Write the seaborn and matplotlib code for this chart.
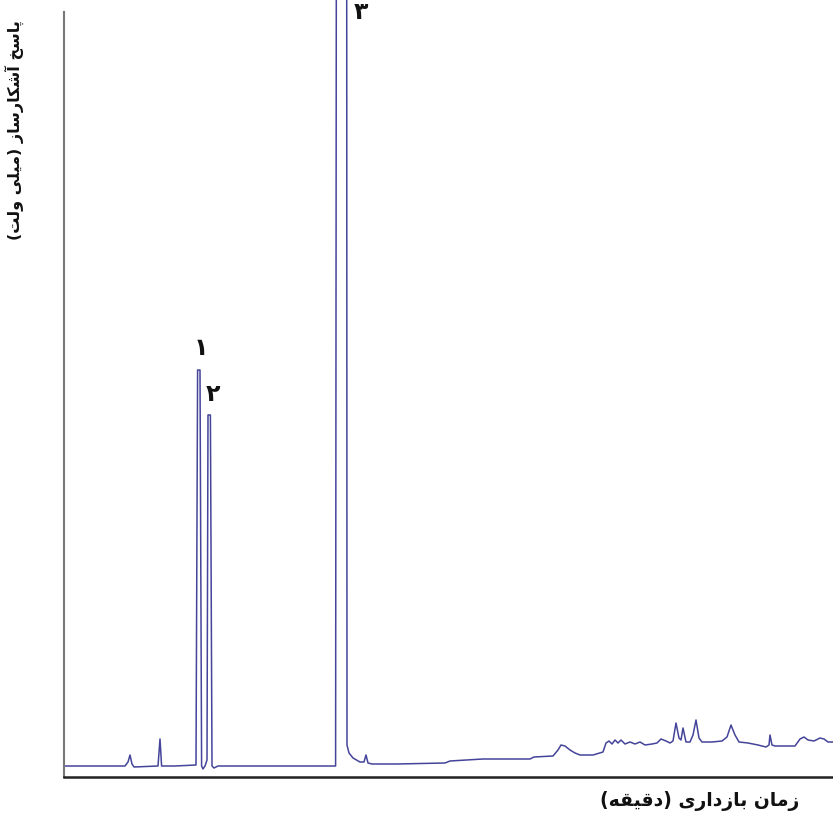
import matplotlib
matplotlib.use("Agg")
import matplotlib.pyplot as plt
import seaborn as sns
import pandas as pd

# ---- data (retention time in min, detector signal in mV) ----
time_min = [0.0, 3.05, 3.2, 3.3, 3.4, 3.5, 4.7, 4.8, 4.88, 5.55,
            6.6, 6.68, 6.8, 6.88, 6.95, 7.05, 7.15, 7.2, 7.32, 7.4, 7.5, 7.7,
            13.5, 13.58, 13.63, 14.13, 14.15, 14.25, 14.45, 14.8, 15.0, 15.1, 15.2, 15.4,
            16.65, 19.05, 19.3, 20.95, 23.3, 23.5, 24.45, 24.7, 24.85, 25.05, 25.3,
            25.55, 25.8, 26.45, 26.95, 27.1, 27.25, 27.4, 27.55, 27.7, 27.85, 28.05,
            28.3, 28.55, 28.8, 29.05, 29.4, 29.65, 29.85, 30.1, 30.3, 30.45, 30.6,
            30.75, 30.85, 30.95, 31.1, 31.3, 31.45, 31.6, 31.75, 31.9, 32.4, 32.9,
            33.15, 33.35, 33.55, 33.75, 34.2, 34.7, 35.1, 35.25, 35.3, 35.4, 35.55,
            36.55, 36.8, 37.0, 37.2, 37.5, 37.8, 38.0, 38.2, 38.45]
signal_mv = [0.0, 0.0, 0.4, 1.1, 0.2, -0.1, 0.0, 2.7, 0.0, 0.0,
             0.1, 39.6, 39.6, 0.0, -0.3, 0.0, 0.6, 35.1, 35.1, 0.0, -0.2, 0.0,
             0.0, 0.0, 110.0, 110.0, 2.1, 1.3, 0.8, 0.4, 0.4, 1.1, 0.3, 0.2,
             0.2, 0.3, 0.5, 0.7, 0.7, 0.9, 1.0, 1.6, 2.1, 2.0, 1.6,
             1.3, 1.1, 1.1, 1.4, 2.3, 2.5, 2.2, 2.6, 2.3, 2.6, 2.2,
             2.4, 2.2, 2.4, 2.1, 2.2, 2.3, 2.7, 2.5, 2.3, 2.5, 4.3,
             2.8, 2.6, 3.8, 2.4, 2.4, 3.1, 4.6, 2.8, 2.4, 2.4, 2.5,
             2.9, 4.1, 3.1, 2.4, 2.3, 2.1, 1.9, 2.1, 3.1, 2.1, 2.0,
             2.0, 2.7, 2.9, 2.6, 2.5, 2.8, 2.7, 2.4, 2.4]

peak_labels = ["۱", "۲", "۳"]
peak_label_time = [6.85, 7.45, 14.85]
peak_label_signal = [41.8, 37.2, 75.4]

xlabel_text = "زمان بازداری (دقیقه)"
ylabel_text = "پاسخ آشکارساز (میلی ولت)"

# ---- minimal Persian shaping (matplotlib has no complex text layout) ----
FORMS = {
    'ا': ('\uFE8D', '\uFE8E', None, None),
    'آ': ('\uFE81', '\uFE82', None, None),
    'ب': ('\uFE8F', '\uFE90', '\uFE91', '\uFE92'),
    'پ': ('\uFB56', '\uFB57', '\uFB58', '\uFB59'),
    'ت': ('\uFE95', '\uFE96', '\uFE97', '\uFE98'),
    'خ': ('\uFEA5', '\uFEA6', '\uFEA7', '\uFEA8'),
    'د': ('\uFEA9', '\uFEAA', None, None),
    'ذ': ('\uFEAB', '\uFEAC', None, None),
    'ر': ('\uFEAD', '\uFEAE', None, None),
    'ز': ('\uFEAF', '\uFEB0', None, None),
    'س': ('\uFEB1', '\uFEB2', '\uFEB3', '\uFEB4'),
    'ش': ('\uFEB5', '\uFEB6', '\uFEB7', '\uFEB8'),
    'ق': ('\uFED5', '\uFED6', '\uFED7', '\uFED8'),
    'ک': ('\uFB8E', '\uFB8F', '\uFB90', '\uFB91'),
    'ل': ('\uFEDD', '\uFEDE', '\uFEDF', '\uFEE0'),
    'م': ('\uFEE1', '\uFEE2', '\uFEE3', '\uFEE4'),
    'ن': ('\uFEE5', '\uFEE6', '\uFEE7', '\uFEE8'),
    'ه': ('\uFEE9', '\uFEEA', '\uFEEB', '\uFEEC'),
    'و': ('\uFEED', '\uFEEE', None, None),
    'ی': ('\uFBFC', '\uFBFD', '\uFBFE', '\uFBFF'),
}


def shape(text):
    out = []
    n = len(text)
    for i, ch in enumerate(text):
        f = FORMS.get(ch)
        if f is None:
            out.append(ch)
            continue
        prev = text[i - 1] if i > 0 else None
        nxt = text[i + 1] if i < n - 1 else None
        jp = prev in FORMS and FORMS[prev][2] is not None
        jn = nxt in FORMS and f[2] is not None
        if jp and jn:
            out.append(f[3])
        elif jp:
            out.append(f[1])
        elif jn:
            out.append(f[2])
        else:
            out.append(f[0])
    vis = ''.join(reversed(out))
    return vis.translate(str.maketrans('()', ')('))


sns.set_style("white")
plt.rcParams['font.family'] = ['DejaVu Sans']

fig = plt.figure(figsize=(8.33, 8.21), dpi=100)
ax = fig.add_axes([64 / 833, 44 / 821, 1 - 64 / 833, 1 - 44 / 821])

df = pd.DataFrame({"t": time_min, "s": signal_mv})
sns.lineplot(data=df, x="t", y="s", sort=False, estimator=None, ax=ax,
             color="#44449a", linewidth=1.1)

ax.set_xlim(0, 38.45)
ax.set_ylim(-1.1, 76.6)
ax.set_xticks([])
ax.set_yticks([])
ax.set_xlabel("")
ax.set_ylabel("")
for side in ["top", "right"]:
    ax.spines[side].set_visible(False)
ax.spines["left"].set_color("#777777")
ax.spines["left"].set_linewidth(1.5)
ax.spines["left"].set_bounds(-1.1, 75.4)
ax.spines["bottom"].set_color("#222222")
ax.spines["bottom"].set_linewidth(1.8)

for lab, tx, sy in zip(peak_labels, peak_label_time, peak_label_signal):
    ax.text(tx, sy, lab, ha="center", va="center", fontsize=17,
            fontweight="bold", color="#111111")

fig.text(700 / 833, 1 - 801 / 821, shape(xlabel_text), ha="center", va="center",
         fontsize=13.5, fontweight="bold", color="#111111")
fig.text(14 / 833, 1 - 130 / 821, shape(ylabel_text), ha="center", va="center",
         rotation=90, fontsize=11.5, fontweight="bold", color="#111111")

fig.savefig("out.png", dpi=100)
